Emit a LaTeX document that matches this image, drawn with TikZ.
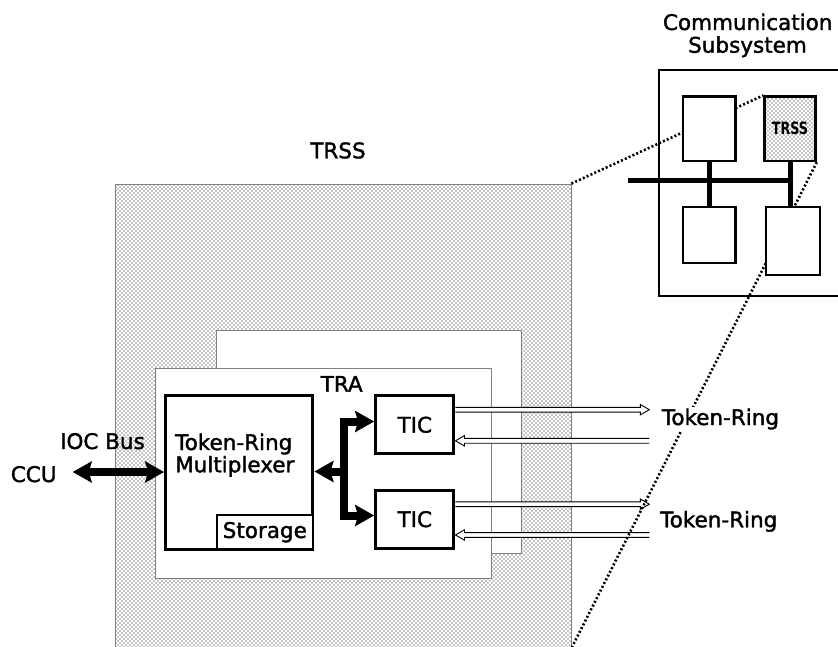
\documentclass[tikz,border=0pt]{standalone}
\usepackage{fontspec}
\setmainfont{DejaVu Sans}
\newfontfamily\heavyfont{DejaVu Sans}[FakeBold=1.6]
\usetikzlibrary{arrows.meta,patterns,calc}
\pgfdeclarepatternformonly{fdots}{\pgfqpoint{-1pt}{-1pt}}{\pgfqpoint{5pt}{5pt}}{\pgfqpoint{4pt}{4pt}}{%
  \pgfpathcircle{\pgfqpoint{0pt}{0pt}}{0.55pt}%
  \pgfpathcircle{\pgfqpoint{2pt}{2pt}}{0.55pt}%
  \pgfusepath{fill}}
\newcommand\hollowarrow[2]{%
  \filldraw[hollow] let \p1=(#1), \p2=(#2), \n1={ifthenelse(\x2>\x1,1,-1)} in
    (\x1,{\y1+2.4pt}) -- ({\x2-(\n1)*9pt},{\y1+2.4pt}) -- ({\x2-(\n1)*9pt},{\y1+5.2pt})
    -- (\x2,\y1) -- ({\x2-(\n1)*9pt},{\y1-5.2pt}) -- ({\x2-(\n1)*9pt},{\y1-2.4pt}) -- (\x1,{\y1-2.4pt});}
\begin{document}
\begin{tikzpicture}[x=1pt,y=-1pt,
  txt/.style={font=\heavyfont\fontsize{21.5pt}{25pt}\selectfont, inner sep=0pt},
  region/.style={draw=gray, line width=0.8pt, inner sep=0pt, pattern=fdots},
  panel/.style={draw=gray, line width=0.9pt, fill=white, inner sep=0pt},
  blk/.style={draw, line width=3pt, fill=white, inner sep=0pt, font=\heavyfont\fontsize{21.5pt}{25pt}\selectfont},
  subblk/.style={draw, line width=2pt, fill=white, inner sep=0pt, font=\heavyfont\fontsize{21.5pt}{25pt}\selectfont},
  fat/.style={line width=8pt, line join=miter, >={Stealth[length=19pt,width=21pt,inset=3pt]}},
  hollow/.style={draw=black, fill=white, line width=0.9pt, line join=miter},
  dotline/.style={line width=2.6pt, dash pattern=on 2pt off 2.2pt},
  cbox/.style={draw, line width=2.5pt, fill=white, inner sep=0pt},
  busline/.style={line width=5pt},
]
\useasboundingbox (0,0) rectangle (838,647);
\clip (0,0) rectangle (838,647);

% TRSS region and adapters
\node[region, minimum width=456pt, minimum height=464pt] (trss) at (343,416) {};
\node[panel, minimum width=304.3pt, minimum height=223pt] (trab) at (368.8,441.5) {};
\node[panel, minimum width=335.3pt, minimum height=210pt] (tra) at (323.3,473) {};

\node[blk, minimum width=147.3pt, minimum height=153.6pt] (mux) at (239.3,472.5) {};
\node[subblk, minimum width=96.3pt, minimum height=34.3pt] (stor) at (264.8,532.2) {Storage};
\node[blk, minimum width=78.3pt, minimum height=58.3pt] (tic1) at (414.8,424.8) {TIC};
\node[blk, minimum width=78.3pt, minimum height=58.3pt] (tic2) at (414.8,519.2) {TIC};

\node[txt, anchor=base west] (muxa) at (175,450) {Token-Ring};
\node[txt, anchor=base west] (muxb) at (175,472.3) {Multiplexer};
\node[txt, anchor=base] (tralbl) at (341.7,391.7) {TRA};
\node[txt, anchor=base] (trsslbl) at (338,158.3) {TRSS};
\node[txt, anchor=base] (ccu) at (33.7,482) {CCU};
\node[txt, anchor=base] (ioc) at (102.5,449) {IOC Bus};

% thick buses
\coordinate (ccuEnd) at (72.7,472);
\draw[fat,<->] (ccuEnd) -- (mux.west |- ccuEnd);
\coordinate (jt) at (344,421.5);
\coordinate (jb) at (344,515.5);
\coordinate (jm) at (344,471.5);
\draw[fat,<->] (tic1.west |- jt) -- (jt) -- (jb) -- (tic2.west |- jb);
\draw[fat,->] (jm) -- (mux.east |- jm);

% token-ring links
\coordinate (o1) at (649.3,409.7);
\coordinate (i1) at (649.3,440.8);
\coordinate (o2) at (649.3,504.2);
\coordinate (i2) at (649.3,535);
\hollowarrow{tic1.east |- o1}{o1}
\hollowarrow{i1}{tic1.east |- i1}
\hollowarrow{tic2.east |- o2}{o2}
\hollowarrow{i2}{tic2.east |- i2}

% communication subsystem
\node[draw, line width=2pt, fill=white, minimum width=191pt, minimum height=226pt, inner sep=0pt] (comm) at (754.5,183) {};
\node[txt, anchor=base] (commA) at (747.7,30) {Communication};
\node[txt, anchor=base] (commB) at (747.5,52.7) {Subsystem};

\node[cbox, minimum width=52.7pt, minimum height=64.3pt] (cb1) at (709.3,128.8) {};
\node[cbox, minimum width=51pt, minimum height=64.3pt] (cbt) at (790,128.8) {};

\draw[dotline] (trss.north east) -- (cbt.north west);
\draw[dotline] (cbt.south east) -- (trss.south east);

\coordinate (busL) at (628,181);
\draw[busline] (busL) -- (cbt.south |- busL);
\node[cbox, minimum width=52.7pt, minimum height=56pt] (cb3) at (709.3,235) {};
\node[cbox, minimum width=54pt, minimum height=68pt] (cb4) at (793,241) {};
\draw[busline] (cb1.south) -- (cb3.north);
\draw[busline] (cbt.south) -- (cbt.south |- cb4.north);

\node[cbox, pattern=fdots, minimum width=51pt, minimum height=64.3pt, font=\bfseries\fontsize{17pt}{17pt}\selectfont] (cbt2) at (cbt) {\scalebox{0.75}[1]{TRSS}};
\node[cbox, minimum width=52.7pt, minimum height=64.3pt] (cb1b) at (cb1) {};

\node[txt, anchor=base west, fill=white, inner sep=1.5pt] (tr1) at (660.2,425) {Token-Ring};
\node[txt, anchor=base west, fill=white, inner sep=1.5pt] (tr2) at (658.5,527.3) {Token-Ring};
\end{tikzpicture}
\end{document}
